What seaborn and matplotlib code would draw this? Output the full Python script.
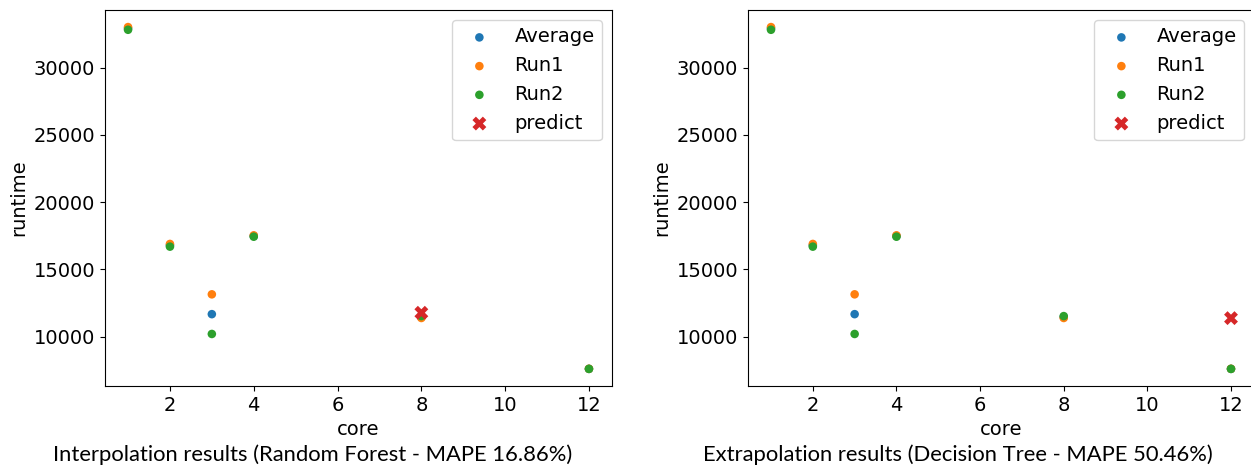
import matplotlib
matplotlib.use("Agg")
import matplotlib.pyplot as plt
import seaborn as sns
import numpy as np

cores = [1, 2, 3, 4, 8, 12]
run1 = [33030, 16890, 13140, 17530, 11380, 7600]
run2 = [32830, 16690, 10190, 17430, 11520, 7590]
average = [32930, 16790, 11665, 17480, 11450, 7595]

predict_left_core = [8]
predict_left_val = [11770]
predict_right_core = [12]
predict_right_val = [11370]

captions = ["Interpolation results (Random Forest - MAPE 16.86%)",
            "Extrapolation results (Decision Tree - MAPE 50.46%)"]

W, H = 1251, 471
fig = plt.figure(figsize=(W / 100, H / 100), dpi=100)
plt.rcParams['font.size'] = 14

axes = [fig.add_axes([105 / W, (H - 386) / H, 507 / W, 376 / H]),
        fig.add_axes([748 / W, (H - 386) / H, 506 / W, 376 / H])]

preds = [(predict_left_core, predict_left_val), (predict_right_core, predict_right_val)]
tab = plt.get_cmap('tab10').colors

for ax, (pc, pv) in zip(axes, preds):
    sns.scatterplot(x=cores, y=average, ax=ax, color=tab[0], s=38, edgecolor='none', label='Average')
    sns.scatterplot(x=cores, y=run1, ax=ax, color=tab[1], s=38, edgecolor='none', label='Run1')
    sns.scatterplot(x=cores, y=run2, ax=ax, color=tab[2], s=38, edgecolor='none', label='Run2')
    sns.scatterplot(x=pc, y=pv, ax=ax, color=tab[3], marker='X', s=100, edgecolor='none', label='predict')
    ax.set_xlabel('core', fontsize=14)
    ax.set_ylabel('runtime', fontsize=14)
    ax.tick_params(labelsize=14)
    ax.set_xticks([2, 4, 6, 8, 10, 12])
    ax.set_yticks([10000, 15000, 20000, 25000, 30000])
    ax.legend(loc='upper right', fontsize=14)

fig.text(53 / W, 1 - 455 / H, captions[0], fontsize=15.8, family='Lato', va='center', ha='left')
fig.text(703 / W, 1 - 455 / H, captions[1], fontsize=15.8, family='Lato', va='center', ha='left')

fig.savefig('out.png', dpi=100)
